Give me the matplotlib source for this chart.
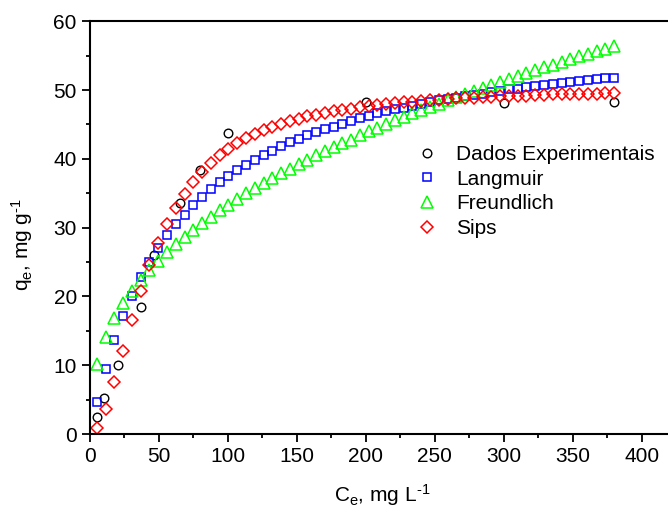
#!/usr/bin/env python3

import matplotlib
matplotlib.use('Agg')
import matplotlib.pyplot as plt

# experimental points
ce_exp = [5, 10, 20, 37, 46.5, 65, 80, 100, 200, 300, 380]
qe_exp = [2.5, 5.3, 10.1, 18.4, 26.0, 33.6, 38.4, 43.8, 48.2, 48.1, 48.2]

# model curves (same C grid for all three)
ce_mod = [5.0, 11.4, 17.7, 24.1, 30.4, 36.8, 43.1, 49.5, 55.9, 62.2,
          68.6, 74.9, 81.3, 87.6, 94.0, 100.3, 106.7, 113.1, 119.4, 125.8,
          132.1, 138.5, 144.8, 151.2, 157.5, 163.9, 170.3, 176.6, 183.0, 189.3,
          195.7, 202.0, 208.4, 214.7, 221.1, 227.5, 233.8, 240.2, 246.5, 252.9,
          259.2, 265.6, 272.0, 278.3, 284.7, 291.0, 297.4, 303.7, 310.1, 316.4,
          322.8, 329.2, 335.5, 341.9, 348.2, 354.6, 360.9, 367.3, 373.6, 380.0]

q_langmuir = [4.6, 9.5, 13.6, 17.1, 20.1, 22.8, 25.0, 27.1, 28.9, 30.5,
              31.9, 33.3, 34.5, 35.6, 36.6, 37.5, 38.4, 39.1, 39.9, 40.6,
              41.2, 41.8, 42.4, 42.9, 43.4, 43.9, 44.3, 44.7, 45.1, 45.5,
              45.9, 46.2, 46.6, 46.9, 47.2, 47.4, 47.7, 48.0, 48.2, 48.5,
              48.7, 48.9, 49.1, 49.3, 49.5, 49.7, 49.9, 50.1, 50.2, 50.4,
              50.6, 50.7, 50.9, 51.0, 51.2, 51.3, 51.4, 51.6, 51.7, 51.8]

q_freundlich = [10.2, 14.1, 16.8, 19.0, 20.8, 22.4, 23.9, 25.2, 26.5, 27.6,
                28.7, 29.7, 30.7, 31.6, 32.5, 33.3, 34.2, 35.0, 35.7, 36.5,
                37.2, 37.9, 38.5, 39.2, 39.8, 40.5, 41.1, 41.7, 42.3, 42.8,
                43.4, 44.0, 44.5, 45.0, 45.6, 46.1, 46.6, 47.1, 47.6, 48.0,
                48.5, 49.0, 49.4, 49.9, 50.3, 50.8, 51.2, 51.6, 52.1, 52.5,
                52.9, 53.3, 53.7, 54.1, 54.5, 54.9, 55.3, 55.7, 56.0, 56.4]

q_sips = [0.8, 3.6, 7.6, 12.1, 16.6, 20.8, 24.5, 27.7, 30.5, 32.9,
          34.9, 36.6, 38.1, 39.4, 40.5, 41.4, 42.3, 43.0, 43.6, 44.2,
          44.7, 45.1, 45.5, 45.8, 46.2, 46.4, 46.7, 46.9, 47.1, 47.3,
          47.5, 47.7, 47.8, 48.0, 48.1, 48.2, 48.3, 48.4, 48.5, 48.6,
          48.7, 48.8, 48.8, 48.9, 49.0, 49.0, 49.1, 49.1, 49.2, 49.2,
          49.3, 49.3, 49.4, 49.4, 49.4, 49.5, 49.5, 49.5, 49.6, 49.6]

labels = ['Dados Experimentais', 'Langmuir', 'Freundlich', 'Sips']


def main():
    plt.rcParams['font.family'] = ['Liberation Sans', 'DejaVu Sans']
    plt.rcParams['mathtext.fontset'] = 'custom'
    plt.rcParams['mathtext.rm'] = 'Liberation Sans'
    plt.rcParams['mathtext.it'] = 'Liberation Sans:italic'
    plt.rcParams['font.size'] = 15

    fig = plt.figure(figsize=(6.68, 5.11), dpi=100)
    ax = fig.add_axes([90 / 668, 77 / 511, 579.3 / 668, 412.7 / 511])

    ax.plot(ce_exp, qe_exp, 'o', ms=6.2, mfc='none', mec='black', mew=1.0,
            label=labels[0])
    ax.plot(ce_mod, q_langmuir, 's', ms=6.0, mfc='none', mec='#0000ff', mew=1.1,
            label=labels[1])
    ax.plot(ce_mod, q_freundlich, '^', ms=8.0, mfc='none', mec='#00ff00', mew=1.1,
            label=labels[2])
    ax.plot(ce_mod, q_sips, 'D', ms=5.8, mfc='none', mec='#ff0000', mew=1.1,
            label=labels[3])

    ax.set_xlim(0, 420)
    ax.set_ylim(0, 60)
    ax.set_xticks([0, 50, 100, 150, 200, 250, 300, 350, 400])
    ax.set_xticks([25, 75, 125, 175, 225, 275, 325, 375], minor=True)
    ax.set_yticks([0, 10, 20, 30, 40, 50, 60])
    ax.set_yticks([5, 15, 25, 35, 45, 55], minor=True)

    ax.spines['right'].set_visible(False)
    for s in ['left', 'bottom', 'top']:
        ax.spines[s].set_linewidth(1.5)
    ax.tick_params(which='major', direction='out', length=5.5, width=1.3, pad=4)
    ax.tick_params(which='minor', direction='out', length=3, width=1.3)

    ax.set_xlabel('C$_\\mathregular{e}$, mg L$^\\mathregular{\u2010 1}$')
    ax.set_ylabel('q$_\\mathregular{e}$, mg g$^\\mathregular{\u2010 1}$')
    ax.xaxis.set_label_coords(0.505, -0.148)
    ax.yaxis.set_label_coords(-0.118, 0.46)
    ax.xaxis.label.set_va('center')
    ax.yaxis.label.set_va('center')

    ax.legend(loc='upper left', bbox_to_anchor=(416.6 / 668, 1 - 145 / 511),
              bbox_transform=fig.transFigure, frameon=False, borderpad=0,
              borderaxespad=0, numpoints=1, handlelength=1.0,
              handletextpad=0.9, labelspacing=0.27, fontsize=15)

    fig.savefig('out.png', dpi=100)


if __name__ == "__main__":
    main()
